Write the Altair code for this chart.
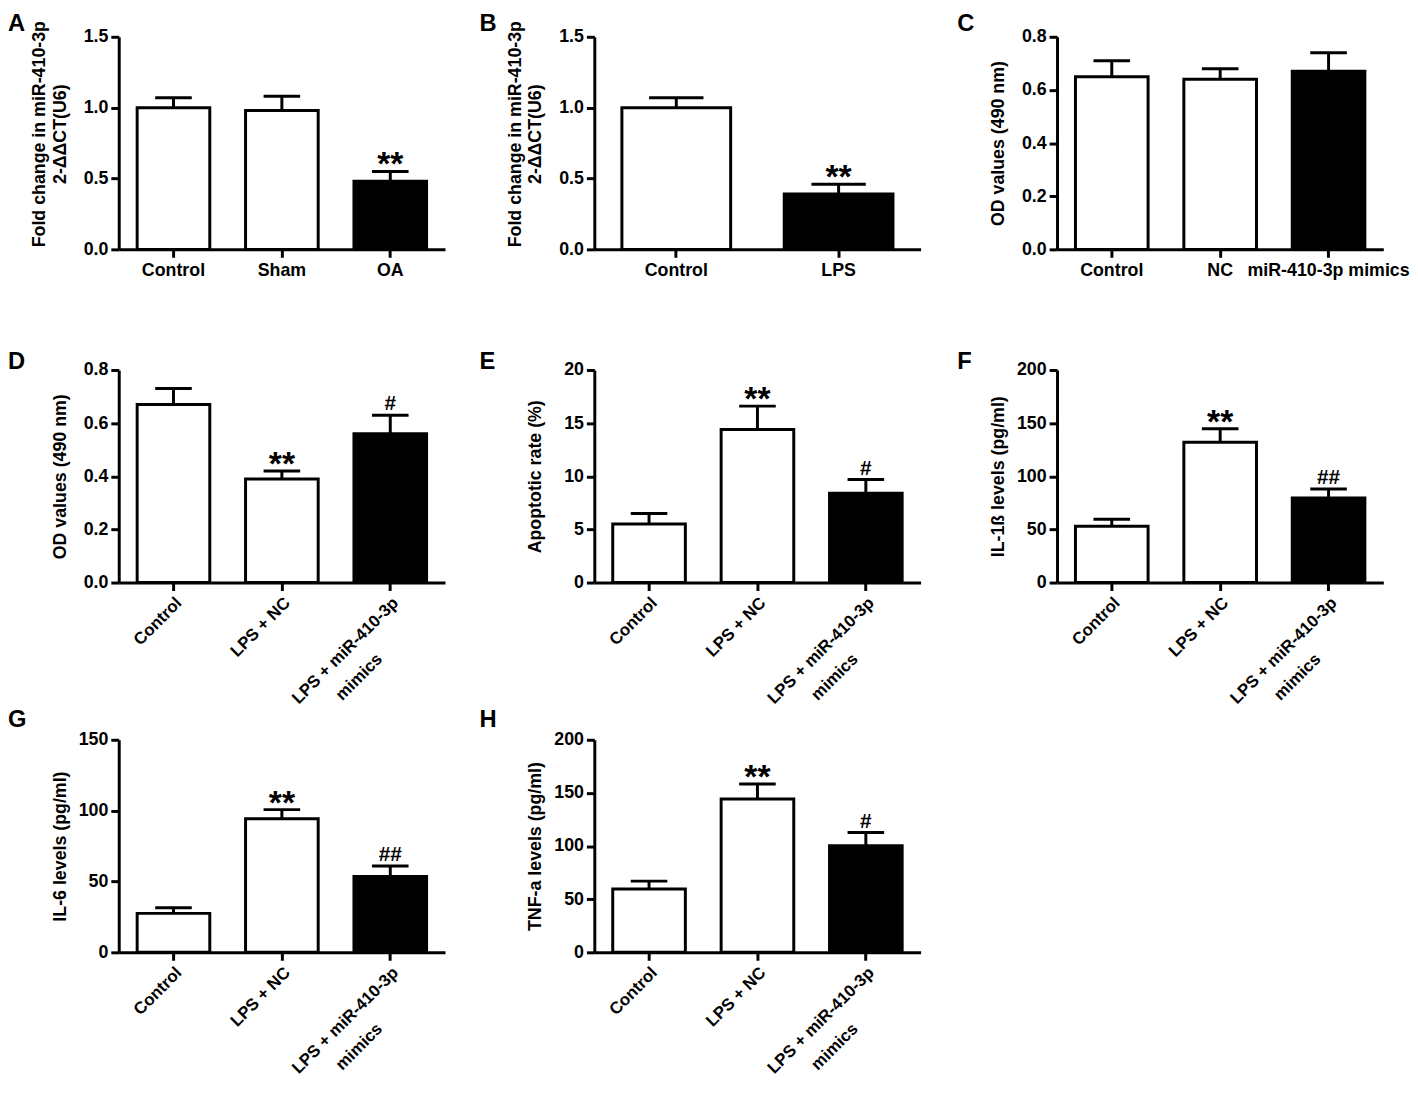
import altair as alt
import pandas as pd

FONT = "Liberation Sans"
NB = "\u00a0"

# ---------------- data ----------------
LONG = "LPS + miR-410-3p mimics"
LINE1 = "LPS + miR-410-3p"
LINE2 = "mimics"

groups_A = ["Control", "Sham", "OA"]
mean_A = [1.00, 0.98, 0.48]
sem_A = [0.07, 0.10, 0.07]
kind_A = ["open", "open", "filled"]
star_A = ["", "", "**"]
hash_A = ["", "", ""]
ticks_A = [0.0, 0.5, 1.0, 1.5]

groups_B = ["Control", "LPS"]
mean_B = [1.00, 0.39]
sem_B = [0.07, 0.07]
kind_B = ["open", "filled"]
star_B = ["", "**"]
hash_B = ["", ""]
ticks_B = [0.0, 0.5, 1.0, 1.5]

groups_C = ["Control", "NC", "miR-410-3p mimics"]
mean_C = [0.65, 0.64, 0.67]
sem_C = [0.06, 0.04, 0.07]
kind_C = ["open", "open", "filled"]
star_C = ["", "", ""]
hash_C = ["", "", ""]
ticks_C = [0.0, 0.2, 0.4, 0.6, 0.8]

groups_LPS = ["Control", "LPS + NC", LONG]
kind_LPS = ["open", "open", "filled"]

mean_D = [0.67, 0.39, 0.56]
sem_D = [0.06, 0.03, 0.07]
star_D = ["", "**", ""]
hash_D = ["", "", "#"]
ticks_D = [0.0, 0.2, 0.4, 0.6, 0.8]

mean_E = [5.5, 14.4, 8.4]
sem_E = [1.0, 2.2, 1.3]
star_E = ["", "**", ""]
hash_E = ["", "", "#"]
ticks_E = [0, 5, 10, 15, 20]

mean_F = [53.0, 132.0, 79.5]
sem_F = [6.5, 12.7, 8.6]
star_F = ["", "**", ""]
hash_F = ["", "", "##"]
ticks_F = [0, 50, 100, 150, 200]

mean_G = [27.5, 94.2, 53.5]
sem_G = [4.0, 6.5, 7.5]
star_G = ["", "**", ""]
hash_G = ["", "", "##"]
ticks_G = [0, 50, 100, 150]

mean_H = [59.6, 144.2, 100.4]
sem_H = [7.4, 14.1, 12.3]
star_H = ["", "**", ""]
hash_H = ["", "", "#"]
ticks_H = [0, 50, 100, 150, 200]

title_AB = ["Fold change in miR-410-3p", "2-ΔΔCT(U6)"]
title_CD = "OD values (490 nm)"
title_E = "Apoptotic rate (%)"
title_F = "IL-1ß levels (pg/ml)"
title_G = "IL-6 levels (pg/ml)"
title_H = "TNF-a levels (pg/ml)"

# ---------------- layout ----------------
W, H = 330, 215
TICK = 8
LPAD_ROT = 4
ROT_FS = 17
SHIFT = 2            # trailing no-break spaces pushing first line back
LINE1_HALF = 72 + 4.7 * SHIFT


def panel(letter, groups, means, sems, kinds, stars, hashes, ticks, ytitle,
          fmt, rotated, box, cap):
    left, top, right, bottom = box
    df = pd.DataFrame({"group": groups, "mean": means, "sem": sems,
                       "kind": kinds, "star": stars, "hash": hashes})
    base = alt.Chart(df).transform_calculate(upper="datum.mean + datum.sem")

    if rotated:
        line1 = LINE1 + NB * SHIFT
        xaxis = alt.Axis(title=None, labelAngle=-45, labelAlign="right",
                         labelBaseline="top", labelFontSize=ROT_FS,
                         labelPadding=LPAD_ROT, labelLimit=400,
                         labelExpr=f"datum.label == '{LONG}' ? '{line1}' : datum.label")
    else:
        xaxis = alt.Axis(title=None, labelAngle=0, labelFontSize=18,
                         labelPadding=4, labelLimit=400)
    x = alt.X("group:N", sort=groups,
              scale=alt.Scale(paddingInner=0.33, paddingOuter=0.17), axis=xaxis)
    yscale = alt.Scale(domain=[0, ticks[-1]], nice=False)
    two_line = isinstance(ytitle, list)
    yaxis = alt.Axis(title=ytitle, values=ticks, format=fmt, labelFontSize=18,
                     labelPadding=3, titleFontSize=18, titleLimit=600,
                     titleLineHeight=21, titleX=-71 if two_line else -50,
                     titleY=98 if two_line else H / 2,
                     titleBaseline="bottom")
    y_mean = alt.Y("mean:Q", scale=yscale, axis=yaxis)
    y_up = alt.Y("upper:Q", scale=yscale, axis=yaxis)

    bars = base.mark_bar(stroke="black", strokeWidth=3).encode(
        x=x, y=y_mean,
        fill=alt.Fill("kind:N", scale=alt.Scale(domain=["open", "filled"],
                                                 range=["white", "black"]),
                      legend=None))
    stem = base.mark_rule(color="black", strokeWidth=3).encode(
        x=x, y=y_mean, y2="upper:Q")
    capm = base.mark_tick(color="black", thickness=3, size=cap, opacity=1).encode(
        x=x, y=y_up)
    st = base.mark_text(fontSize=34, fontWeight="bold", font=FONT, color="black",
                        baseline="alphabetic", dy=4).encode(x=x, y=y_up, text="star:N")
    hs = base.mark_text(fontSize=21, fontWeight="bold", font=FONT, color="black",
                        baseline="alphabetic", dy=-5).encode(x=x, y=y_up, text="hash:N")

    lt = alt.Chart(pd.DataFrame({"letter": [letter]})).mark_text(
        align="left", baseline="top", fontSize=24, fontWeight="bold",
        font=FONT, color="black").encode(
        text="letter:N", x=alt.value(left), y=alt.value(top))
    sp = alt.Chart(pd.DataFrame({"v": [0]})).mark_rect(opacity=0).encode(
        x=alt.value(left), x2=alt.value(right),
        y=alt.value(top), y2=alt.value(bottom))

    layers = [sp, bars, stem, capm, st, hs, lt]
    if rotated:
        sec = alt.Chart(pd.DataFrame({"group": [LONG], "line2": [LINE2]})).mark_text(
            angle=315, align="center", baseline="top", fontSize=ROT_FS,
            fontWeight="bold", font=FONT, color="black",
            dx=-LINE1_HALF, dy=29).encode(
            x=x, y=alt.value(H + TICK + LPAD_ROT), text="line2:N")
        layers.append(sec)
    return alt.layer(*layers).properties(width=W, height=H)


# cell boxes (left, top, right, bottom) relative to plot area
L1, L2, L3 = -112, -116, -101
R1, R2, R3 = 365, 367, 330
T1, T2, T3 = -25, -20, -32
B1, B2, B3 = 317, 342, 300

cap3, cap2 = 37, 55

pA = panel("A", groups_A, mean_A, sem_A, kind_A, star_A, hash_A, ticks_A,
           title_AB, ".1f", False, (L1, T1, R1, B1), cap3)
pB = panel("B", groups_B, mean_B, sem_B, kind_B, star_B, hash_B, ticks_B,
           title_AB, ".1f", False, (L2, T1, R2, B1), cap2)
pC = panel("C", groups_C, mean_C, sem_C, kind_C, star_C, hash_C, ticks_C,
           title_CD, ".1f", False, (L3, T1, R3, B1), cap3)
pD = panel("D", groups_LPS, mean_D, sem_D, kind_LPS, star_D, hash_D, ticks_D,
           title_CD, ".1f", True, (L1, T2, R1, B2), cap3)
pE = panel("E", groups_LPS, mean_E, sem_E, kind_LPS, star_E, hash_E, ticks_E,
           title_E, "d", True, (L2, T2, R2, B2), cap3)
pF = panel("F", groups_LPS, mean_F, sem_F, kind_LPS, star_F, hash_F, ticks_F,
           title_F, "d", True, (L3, T2, R3, B2), cap3)
pG = panel("G", groups_LPS, mean_G, sem_G, kind_LPS, star_G, hash_G, ticks_G,
           title_G, "d", True, (L1, T3, R1, B3), cap3)
pH = panel("H", groups_LPS, mean_H, sem_H, kind_LPS, star_H, hash_H, ticks_H,
           title_H, "d", True, (L2, T3, R2, B3), cap3)

chart = alt.concat(pA, pB, pC, pD, pE, pF, pG, pH, columns=3, spacing=0,
                   bounds="full", align="each").properties(
    padding={"left": 0, "top": -2, "right": 0, "bottom": -3}, background="white"
).configure_view(stroke=None).configure_axis(
    domainColor="black", domainWidth=3, tickColor="black", tickWidth=3,
    tickSize=TICK, labelColor="black", titleColor="black", labelFont=FONT,
    titleFont=FONT, labelFontWeight="bold", titleFontWeight="bold", grid=False
)

chart.save("out.html", embed_options={"renderer": "svg", "actions": False})
